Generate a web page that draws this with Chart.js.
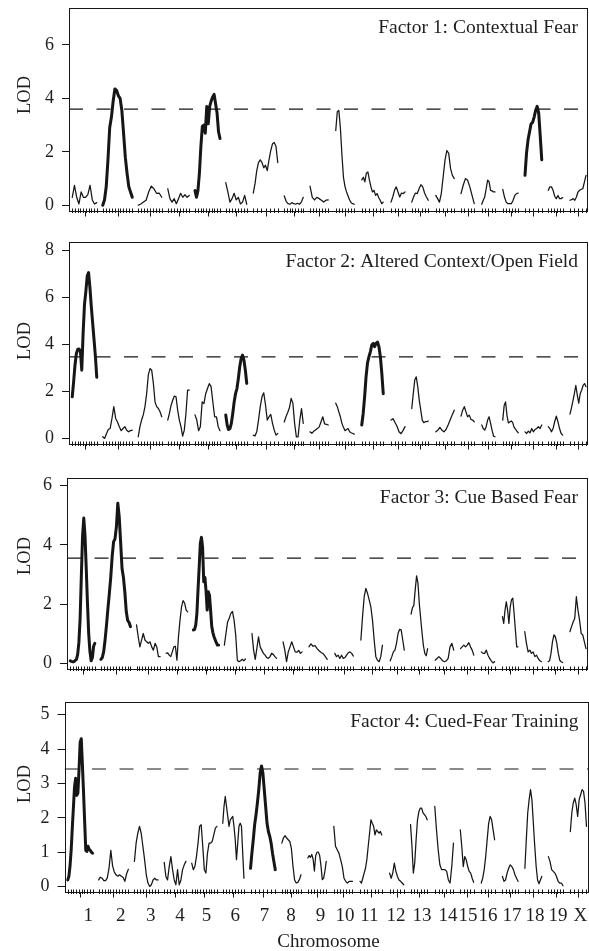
<!DOCTYPE html>
<html>
<head>
<meta charset="utf-8">
<script src="https://cdn.jsdelivr.net/npm/chart.js@4.4.0/dist/chart.umd.min.js"></script>
<style>
  html, body { margin: 0; padding: 0; background: #fff; }
  body { width: 589px; height: 951px; position: relative; overflow: hidden; }
  canvas { position: absolute; left: 0; }
</style>
</head>
<body>
<canvas id="f1"></canvas>
<canvas id="f2"></canvas>
<canvas id="f3"></canvas>
<canvas id="f4"></canvas>
<script>
// genome map (cM, chromosomes laid end to end with gaps)
const chrNames = ['1','2','3','4','5','6','7','8','9','10','11','12','13','14','15','16','17','18','19','X'];
const chrStart = [13,135,277,395,504,627,737,861,964,1067,1171,1288,1371,1467,1568,1651,1735,1824,1917,2004];
const chrEnd = [111,253,371,481,604,711,835,937,1037,1141,1257,1344,1437,1541,1621,1704,1797,1891,1975,2068];
const chrLabelPos = [94,223,342,458,563,676,792,897,1014,1111,1208,1313,1416,1519,1599,1678,1773,1864,1955,2044];
const markerCount = [10,11,9,8,10,8,7,8,7,7,7,5,6,6,5,5,6,5,6,5];
const genomeEnd = 2076;

const factorTitles = [
  'Factor 1: Contextual Fear',
  'Factor 2: Altered Context/Open Field',
  'Factor 3: Cue Based Fear',
  'Factor 4: Cued-Fear Training'
];
const thresholds = [3.6, 3.47, 3.55, 3.42];
const yTicks = [[0,2,4,6],[0,2,4,6,8],[0,2,4,6],[0,1,2,3,4,5]];
// chromosomes drawn with a heavy line
const sigChr = [['2','5','18'],['1','6','11'],['1','2','5'],['1','7']];

// LOD profiles, one list per chromosome, evenly spread along the chromosome
const lodF1 = [
  [0.3,0.75,0.3,0.05,0.5,0.3,0.3,0.4,0.75,0.2,0.05,0.1],
  [0,0.2,0.7,1.7,2.9,3.3,3.9,4.35,4.3,4.1,4.0,3.55,2.7,1.8,1.2,0.7,0.5,0.3],
  [0,0.05,0.12,0.19,0.5,0.72,0.62,0.45,0.46,0.3],
  [0.62,0.25,0.12,0.25,0.06,0.25,0.45,0.3,0.4,0.3,0.37],
  [0.55,0.3,0.55,1.2,2.2,2.95,3.0,2.7,3.7,3.05,3.7,3.9,4.05,4.15,3.8,3.45,2.75,2.5],
  [0.85,0.5,0.12,0.25,0.45,0.2,0.3,0.05,0.12,0.37,0.04],
  [0.46,0.8,1.3,1.6,1.7,1.6,1.4,1.5,1.3,1.7,2.05,2.3,2.35,2.2,1.6],
  [0.35,0.15,0.06,0.04,0.1,0.06,0.04,0.08,0.04,0.12,0.3],
  [0.72,0.3,0.2,0.3,0.25,0.19,0.12,0.19,0.2],
  [2.8,3.5,3.55,2.9,1.9,1.05,0.7,0.5,0.35,0.2,0.1,0.06,0.04],
  [0.95,1.05,0.88,1.2,1.25,0.94,0.69,0.5,0.56,0.37,0.44,0.29,0.19,0.06,0.12],
  [0.12,0.31,0.56,0.69,0.5,0.31,0.46,0.44,0.5],
  [0.12,0.31,0.46,0.44,0.62,0.77,0.69,0.46,0.31,0.19],
  [0.37,0.25,0.12,0.44,1.06,1.69,2.05,1.94,1.37,1.12,1.0],
  [0.44,0.75,1.0,0.94,0.69,0.37,0.06],
  [0.04,0.19,0.31,0.62,0.94,0.88,0.56,0.54,0.5,0.5],
  [0.6,0.31,0.12,0.06,0.06,0.06,0.19,0.37,0.44,0.46],
  [1.12,1.95,2.45,2.75,3.05,3.1,3.3,3.55,3.7,3.45,2.6,1.7],
  [0.56,0.69,0.69,0.56,0.34,0.25,0.37,0.25,0.25,0.29],
  [0.19,0.21,0.25,0.19,0.31,0.5,0.56,0.6,0.62,0.87,1.12]
];
const lodF2 = [
  [1.77,2.4,3.1,3.6,3.78,3.8,3.7,2.9,4.5,5.7,6.25,6.9,7.05,6.4,5.6,4.9,4.2,3.5,2.6],
  [0.07,0.0,0.2,0.38,0.42,0.85,1.35,0.85,0.7,0.5,0.33,0.42,0.5,0.35,0.28,0.33,0.35],
  [0.07,0.5,0.78,1.0,1.35,1.9,2.7,2.97,2.9,2.35,1.55,1.35,1.27,1.13,0.92],
  [0.78,1.06,1.4,1.62,1.8,1.77,1.2,0.78,0.5,0.1,0.35,1.06,2.05,2.05],
  [1.0,0.78,0.33,0.5,1.55,1.48,1.9,2.12,2.33,2.2,1.55,0.92,0.92,0.5,0.33],
  [1.0,0.57,0.38,0.42,0.64,1.06,1.55,1.9,2.12,2.55,3.05,3.4,3.54,3.33,2.9,2.34],
  [0.14,0.1,0.28,0.78,1.35,1.77,1.94,1.42,0.78,0.92,1.02,0.64,0.35,0.14,0.21],
  [0.7,0.92,1.1,1.3,1.7,1.5,0.64,0.07,0.07,0.78,1.27,0.64],
  [0.28,0.22,0.3,0.36,0.42,0.48,0.7,0.92,0.62,0.6,0.57],
  [1.5,1.35,1.13,0.92,0.64,0.47,0.33,0.38,0.42,0.28,0.24,0.21,0.18],
  [0.57,1.06,1.77,2.62,3.2,3.47,3.68,3.97,4.04,3.9,4.04,4.1,3.9,3.47,2.76,1.9],
  [0.78,0.84,0.68,0.52,0.28,0.2,0.33,0.5],
  [1.27,1.9,2.48,2.62,2.2,1.63,1.2,0.78,0.67,0.71,0.71,0.74],
  [0.28,0.35,0.47,0.35,0.28,0.38,0.57,0.78,1.0,1.2],
  [0.95,1.2,1.35,1.13,0.92,0.99,0.81,0.78,0.71],
  [0.57,0.42,0.35,0.5,0.78,0.92,0.64,0.35,0.1,0.07],
  [0.78,1.4,1.55,0.98,0.66,0.7,0.74,0.68,0.48,0.4,0.31,0.24],
  [0.28,0.21,0.31,0.24,0.42,0.28,0.38,0.42,0.5,0.42,0.57],
  [0.5,0.42,0.28,0.42,0.71,0.95,0.71,0.42,0.21,0.14],
  [1.03,1.3,1.6,1.9,2.25,1.85,1.5,1.9,2.05,2.25,2.33,2.2]
];
const lodF3 = [
  [0.09,0.07,0.06,0.06,0.1,0.14,0.3,0.7,1.5,2.93,4.3,4.9,4.3,3.2,2.03,1.0,0.4,0.09,0.2,0.58,0.68],
  [0.14,0.2,0.4,0.8,1.3,1.85,2.36,2.9,3.6,4.1,4.2,4.6,5.4,4.95,4.1,3.2,2.9,2.4,1.75,1.45,1.38,1.24],
  [1.3,0.9,0.56,0.79,1.01,0.79,0.73,0.68,0.73,0.56,0.45,0.68,0.56,0.23,0.23],
  [0.34,0.36,0.28,0.23,0.39,0.56,0.58,0.11,0.9,1.46,1.91,2.12,2.03,1.8,1.74],
  [1.13,1.15,1.3,1.69,2.5,3.25,4.05,4.25,3.9,2.75,2.9,2.45,1.8,2.42,2.3,1.8,1.25,1.04,0.9,0.8,0.7,0.62,0.62],
  [0.62,1.01,1.4,1.52,1.69,1.75,1.46,0.96,0.11,0.06,0.09,0.14,0.09,0.15],
  [1.01,0.45,0.14,0.51,0.9,0.56,0.45,0.34,0.28,0.2,0.17,0.23,0.34,0.31,0.23,0.17],
  [0.73,0.45,0.06,0.39,0.56,0.73,0.56,0.39,0.38,0.44,0.34,0.39],
  [0.56,0.66,0.58,0.6,0.5,0.43,0.37,0.33,0.24,0.14],
  [0.34,0.23,0.28,0.17,0.28,0.17,0.2,0.28,0.36,0.39,0.34,0.25],
  [0.79,1.58,2.25,2.53,2.36,2.14,1.91,1.46,0.79,0.23,0.11,0.06,0.23,0.62],
  [0.09,0.23,0.39,0.45,0.68,1.01,1.15,1.13,0.79,0.45],
  [1.66,1.88,1.95,2.48,2.95,2.7,2.0,1.5,1.0,0.58,0.33,0.26,0.5],
  [0.11,0.17,0.23,0.17,0.09,0.06,0.09,0.17,0.56,0.68,0.45],
  [0.5,0.56,0.62,0.56,0.62,0.7,0.56,0.45,0.28],
  [0.39,0.34,0.34,0.45,0.28,0.17,0.09,0.02,0.06],
  [1.58,1.35,1.8,2.08,1.8,1.35,1.91,2.14,2.2,1.69,1.13,0.56,0.56],
  [1.07,0.68,0.39,0.45,0.34,0.39,0.23,0.28,0.17,0.09,0.06],
  [0.06,0.09,0.34,0.73,0.96,0.9,0.68,0.34,0.11,0.06,0.03],
  [1.07,1.24,1.4,1.52,2.25,1.8,1.46,1.01,0.96,0.73,0.5]
];
const lodF4 = [
  [0.19,0.3,0.6,1.05,1.7,2.3,2.9,3.15,2.65,2.72,3.4,4.2,4.3,3.55,2.75,1.9,1.05,1.02,1.17,1.08,1.05,1.0,0.97],
  [0.19,0.27,0.24,0.17,0.17,0.25,0.55,1.05,0.6,0.42,0.34,0.3,0.34,0.3,0.26,0.15,0.37,0.5],
  [0.73,1.26,1.55,1.75,1.55,1.17,0.78,0.34,0.1,0.0,0.05,0.19,0.24,0.19,0.19],
  [0.7,0.29,0.19,0.58,0.87,0.49,0.19,0.05,0.49,0.05,0.19,0.49,0.63,0.73],
  [0.68,0.49,0.58,0.87,1.26,1.75,1.8,1.17,0.49,0.39,0.97,1.26,1.26,1.31,1.5,1.7,1.75],
  [1.84,2.33,2.62,2.33,2.04,1.75,1.94,1.99,2.04,1.75,1.36,0.78,1.26,1.75,1.84,1.75,0.97,0.24],
  [0.53,0.97,1.36,1.8,2.09,2.43,2.82,3.3,3.51,3.3,2.82,2.33,1.84,1.6,1.46,1.26,0.97,0.73,0.49],
  [1.26,1.41,1.48,1.41,1.36,1.31,1.1,0.58,0.19,0.1,0.12,0.2,0.34],
  [0.83,0.9,0.85,0.93,0.8,0.45,0.9,1.0,1.0,0.9,0.6,0.2,0.24,0.45,0.73],
  [1.75,1.17,1.07,0.97,0.78,0.58,0.24,0.15,0.1,0.15,0.15,0.15],
  [0.15,0.1,0.24,0.39,0.53,0.78,1.17,1.55,1.94,1.84,1.75,1.5,1.65,1.6,1.55,1.6,1.5],
  [0.39,0.24,0.39,0.68,0.44,0.29,0.19,0.15,0.1,0.05],
  [1.8,1.17,0.39,0.68,1.36,1.94,2.18,2.28,2.28,2.14,2.09,2.04,1.94],
  [2.33,1.65,1.07,0.63,0.49,0.49,0.49,0.44,0.19,0.1,0.58,1.26],
  [1.65,1.17,0.58,0.87,0.78,0.58,0.44,0.39,0.24,0.12],
  [0.1,0.24,0.49,0.87,1.36,1.84,2.04,1.94,1.65,1.36],
  [0.29,0.15,0.19,0.39,0.53,0.63,0.58,0.49,0.34,0.24,0.15],
  [0.53,1.36,2.14,2.52,2.82,2.52,1.84,1.17,0.58,0.19,0.08,0.19,0.29],
  [0.87,0.73,0.49,0.44,0.39,0.29,0.15,0.1,0.1,0.02],
  [1.6,2.14,2.43,2.57,2.38,2.04,2.52,2.67,2.82,2.77,2.43,1.75]
];
const allLod = [lodF1, lodF2, lodF3, lodF4];

// panel boxes on the page (pixels) and y ranges
const panels = [
  {top: 8,   bottom: 212, left: 69,   right: 588,   yMin: -0.25, yMax: 7.38, lodY: 87,  below: 24},
  {top: 242, bottom: 445, left: 69,   right: 588,   yMin: -0.28, yMax: 8.35, lodY: 99,  below: 24},
  {top: 478, bottom: 670, left: 67,   right: 588,   yMin: -0.22, yMax: 6.25, lodY: 78,  below: 24},
  {top: 702, bottom: 893, left: 64.5, right: 588.5, yMin: -0.19, yMax: 5.37, lodY: 82,  below: 58}
];

const ink = '#161616';
const serif = '"Liberation Serif", "Times New Roman", serif';
const padTop = 24;
const axisW = 60;

function line(ctx, x1, y1, x2, y2) {
  ctx.beginPath();
  ctx.moveTo(x1, y1);
  ctx.lineTo(x2, y2);
  ctx.stroke();
}

// box, rug of markers, chromosome ticks, titles
const decor = {
  id: 'decor',
  afterDraw(chart) {
    const k = chart.options.plugins.decor.k;
    const p = panels[k];
    const {ctx, chartArea: a} = chart;
    const x = chart.scales.x;
    ctx.save();
    ctx.strokeStyle = ink;
    ctx.lineWidth = 1;
    const L = Math.round(a.left) + 0.5, R = Math.round(a.right) - 0.5;
    const T = Math.round(a.top) + 0.5, B = Math.round(a.bottom) - 0.5;
    ctx.strokeRect(L, T, R - L, B - T);

    chrStart.forEach((s, c) => {
      const n = markerCount[c];
      for (let i = 0; i < n; i++) {
        const px = Math.round(x.getPixelForValue(s + i * (chrEnd[c] - s) / (n - 1))) + 0.5;
        line(ctx, px, B - 3, px, B + 1.5);
      }
      const cx = Math.round(x.getPixelForValue((s + chrEnd[c]) / 2)) + 0.5;
      line(ctx, cx, B, cx, B + 5);
    });

    ctx.fillStyle = '#1e1e1e';
    ctx.font = '19.5px ' + serif;
    ctx.textAlign = 'right';
    ctx.textBaseline = 'middle';
    ctx.fillText(factorTitles[k], a.right - 10, a.top + 20);

    ctx.save();
    ctx.font = '18.5px ' + serif;
    ctx.textAlign = 'center';
    ctx.translate(25.5, a.top + p.lodY);
    ctx.rotate(-Math.PI / 2);
    ctx.fillText('LOD', 0, 0);
    ctx.restore();

    if (k === 3) {
      ctx.font = '19px ' + serif;
      ctx.textAlign = 'center';
      chrNames.forEach((name, c) => {
        ctx.fillText(name, x.getPixelForValue(chrLabelPos[c]), B + 24);
      });
      ctx.fillText('Chromosome', (a.left + a.right) / 2 + 2, B + 50);
    }
    ctx.restore();
  }
};

function chrData(lods) {
  return lods.map((vals, c) => {
    const step = (chrEnd[c] - chrStart[c]) / (vals.length - 1);
    return vals.map((v, i) => ({x: chrStart[c] + i * step, y: v}));
  });
}

panels.forEach((p, k) => {
  const canvas = document.getElementById('f' + (k + 1));
  const h = (p.bottom - p.top) + padTop + p.below;
  canvas.width = 589;
  canvas.height = h;
  canvas.style.top = (p.top - padTop) + 'px';

  const datasets = chrData(allLod[k]).map((pts, c) => {
    const thick = sigChr[k].includes(chrNames[c]);
    return {
      data: pts,
      borderColor: ink,
      borderWidth: thick ? 3 : 1.25,
      pointRadius: 0,
      tension: 0,
      fill: false,
      borderJoinStyle: 'round',
      borderCapStyle: 'round'
    };
  });
  datasets.push({
    data: [{x: 0, y: thresholds[k]}, {x: genomeEnd, y: thresholds[k]}],
    borderColor: ink,
    borderWidth: 1.2,
    borderDash: [14, 13.5],
    pointRadius: 0,
    fill: false
  });

  new Chart(canvas, {
    type: 'line',
    data: {datasets: datasets},
    options: {
      responsive: false,
      animation: false,
      devicePixelRatio: 1,
      events: [],
      layout: {padding: {left: p.left - axisW, right: 589 - p.right, top: padTop, bottom: p.below}},
      plugins: {legend: {display: false}, tooltip: {enabled: false}, decor: {k: k}},
      scales: {
        x: {type: 'linear', min: 0, max: genomeEnd, display: false},
        y: {
          type: 'linear',
          min: p.yMin,
          max: p.yMax,
          afterBuildTicks: s => { s.ticks = yTicks[k].map(v => ({value: v})); },
          afterFit: s => { s.width = axisW; },
          grid: {drawOnChartArea: false, drawTicks: true, tickLength: 7, color: ink, lineWidth: 1},
          border: {display: false},
          ticks: {font: {family: serif, size: 18}, color: '#1e1e1e', padding: 8, callback: v => String(v)}
        }
      }
    },
    plugins: [decor]
  });
});
</script>
</body>
</html>
